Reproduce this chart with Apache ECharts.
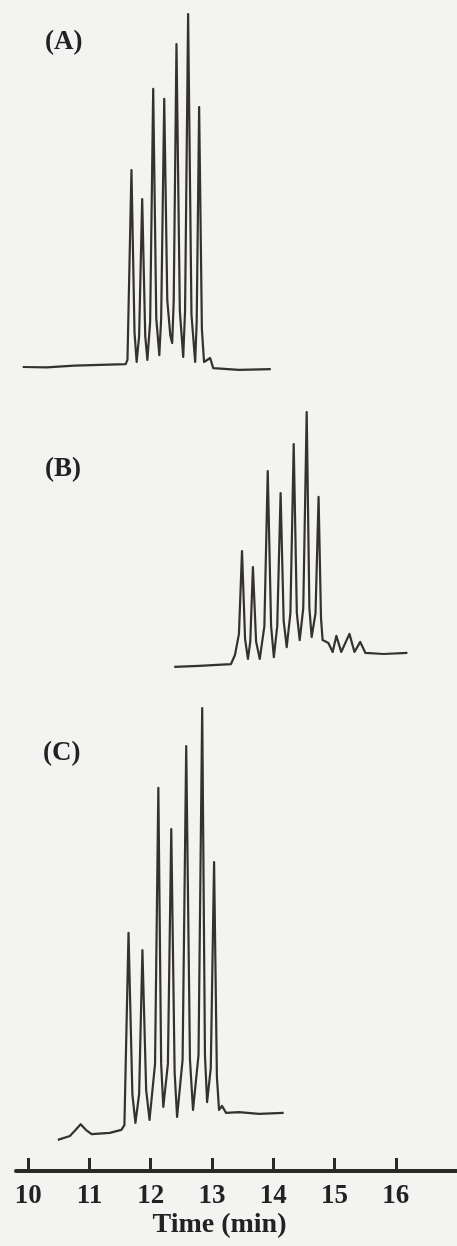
<!DOCTYPE html>
<html>
<head>
<meta charset="utf-8">
<title>Chromatograms A, B, C</title>
<script src="https://cdn.jsdelivr.net/npm/echarts@6/dist/echarts.min.js"></script>
<style>
  html, body { margin: 0; padding: 0; background: #f3f3f1; }
  #chart { width: 457px; height: 1246px; }
</style>
</head>
<body>
<div id="chart"></div>
<script>
// retention time (min) and detector signal (relative, tallest peak = 100)
const timeA = [9.91, 10.30, 10.75, 11.17, 11.59, 11.62, 11.685, 11.735, 11.77, 11.81, 11.86, 11.91, 11.945, 11.99, 12.04, 12.09, 12.14, 12.17, 12.22, 12.27, 12.32, 12.35, 12.375, 12.42, 12.475, 12.53, 12.56, 12.61, 12.665, 12.725, 12.75, 12.79, 12.835, 12.87, 12.97, 13.02, 13.44, 13.96];
const signalA = [1.4, 1.3, 1.8, 2.0, 2.2, 3.4, 56.4, 11, 2.8, 10, 48.3, 10, 3.4, 14, 79.1, 15, 4.7, 15, 76.3, 20, 10.1, 8.1, 20, 91.6, 17, 4.2, 17, 100, 16, 2.8, 14, 74.0, 12, 2.8, 3.9, 1.1, 0.6, 0.8];

const timeB = [12.384, 12.79, 13.31, 13.375, 13.44, 13.49, 13.54, 13.587, 13.625, 13.668, 13.72, 13.78, 13.855, 13.91, 13.965, 14.01, 14.065, 14.12, 14.17, 14.22, 14.28, 14.334, 14.385, 14.432, 14.49, 14.546, 14.59, 14.627, 14.69, 14.74, 14.78, 14.806, 14.90, 14.97, 15.03, 15.11, 15.244, 15.326, 15.42, 15.505, 15.80, 16.19];
const signalB = [1.2, 1.6, 2.3, 5.8, 14, 46.1, 12, 4.3, 11, 39.9, 11, 4.3, 17, 77.1, 17, 5.0, 17, 68.6, 19, 8.9, 22, 87.6, 22, 11.6, 24, 100, 24, 12.8, 22, 67.1, 20, 11.6, 10.5, 7.0, 13.2, 7.0, 14.0, 7.0, 10.9, 6.6, 6.2, 6.6];

const timeC = [10.483, 10.68, 10.775, 10.856, 10.94, 11.035, 11.33, 11.52, 11.57, 11.637, 11.70, 11.75, 11.81, 11.864, 11.925, 11.98, 12.07, 12.124, 12.17, 12.205, 12.28, 12.335, 12.39, 12.43, 12.52, 12.579, 12.64, 12.69, 12.78, 12.84, 12.885, 12.92, 12.98, 13.034, 13.08, 13.115, 13.164, 13.23, 13.44, 13.765, 14.17];
const signalC = [0.5, 1.4, 2.8, 4.1, 2.8, 1.8, 2.1, 2.8, 3.9, 48.2, 11, 4.4, 11, 44.2, 12, 5.1, 18, 81.6, 18, 8.1, 18, 72.1, 16, 5.8, 19, 91.2, 19, 7.4, 20, 100, 20, 9.2, 17, 64.5, 15, 7.4, 8.3, 6.7, 6.9, 6.5, 6.7];

const panelLabels = ['(A)', '(B)', '(C)'];
const timeTicks = [10, 11, 12, 13, 14, 15, 16];

const ink = '#353131';
const serif = '"Liberation Serif", "DejaVu Serif", serif';

function zip(ts, vs) {
    return ts.map((t, i) => [t, vs[i]]);
}

const chart = echarts.init(document.getElementById('chart'), null, { renderer: 'canvas' });

// three stacked panels share one time range
const grids = [
    { left: 16, right: -2, top: 14, height: 358 },
    { left: 16, right: -2, top: 412, height: 258 },
    { left: 16, right: -2, top: 708, height: 434 }
];

const xAxes = grids.map((g, i) => {
    let ax = { type: 'value', gridIndex: i, min: 9.8, max: 17, show: false };
    if (i === 2) {
        ax = {
            type: 'value', gridIndex: 2, min: 9.8, max: 17, show: true,
            offset: 29,
            splitLine: { show: false },
            axisLine: { show: true, onZero: false, lineStyle: { color: '#2b2828', width: 4 } },
            axisTick: { show: true, inside: true, length: 13, customValues: timeTicks, lineStyle: { color: '#2b2828', width: 3 } },
            axisLabel: { customValues: timeTicks, margin: 12, color: '#222', fontFamily: serif, fontWeight: 'bold', fontSize: 27 },
            name: 'Time (min)',
            nameLocation: 'middle',
            nameGap: 28,
            nameTextStyle: { color: '#222', fontFamily: serif, fontWeight: 'bold', fontSize: 28, padding: [0, 34, 0, 0] }
        };
    }
    return ax;
});

const yAxes = grids.map((g, i) => ({ type: 'value', gridIndex: i, min: 0, max: 100, show: false }));

const traces = [zip(timeA, signalA), zip(timeB, signalB), zip(timeC, signalC)];

const series = traces.map((d, i) => ({
    type: 'line',
    name: panelLabels[i],
    xAxisIndex: i,
    yAxisIndex: i,
    data: d,
    symbol: 'none',
    clip: false,
    lineStyle: { color: ink, width: 2.2, join: 'round' }
}));

const labelPos = [[45, 42], [45, 469], [43, 753]];

chart.setOption({
    backgroundColor: '#f3f3f1',
    animation: false,
    grid: grids,
    xAxis: xAxes,
    yAxis: yAxes,
    series: series,
    graphic: panelLabels.map((txt, i) => ({
        type: 'text',
        x: labelPos[i][0],
        y: labelPos[i][1],
        style: {
            text: txt,
            fill: '#222',
            font: 'bold 27px ' + serif,
            verticalAlign: 'middle'
        }
    }))
});
</script>
</body>
</html>
